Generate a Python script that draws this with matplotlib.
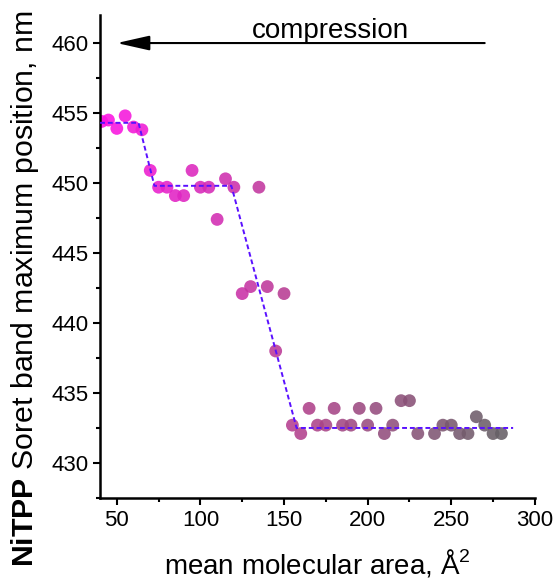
import matplotlib
matplotlib.use("Agg")
import matplotlib.pyplot as plt
from matplotlib.colors import LinearSegmentedColormap
from matplotlib.ticker import MultipleLocator

plt.rcParams['font.family'] = ['Liberation Sans', 'DejaVu Sans']
plt.rcParams['mathtext.fontset'] = 'custom'
plt.rcParams['mathtext.rm'] = 'Liberation Sans'
plt.rcParams['mathtext.bf'] = 'Liberation Sans:bold'

# measured points
area = [41, 45, 50, 55, 60, 65, 70, 75, 80, 85, 90, 95, 100, 105, 110, 115,
        120, 125, 130, 135, 140, 145, 150, 155, 160, 165, 170, 175, 180, 185,
        190, 195, 200, 205, 210, 215, 220, 225, 230, 240, 245, 250, 255, 260,
        265, 270, 275, 280]
soret = [454.4, 454.5, 453.9, 454.8, 454.0, 453.8, 450.9, 449.7, 449.7, 449.1,
         449.1, 450.9, 449.7, 449.7, 447.4, 450.3, 449.7, 442.1, 442.6, 449.7,
         442.6, 438.0, 442.1, 432.7, 432.1, 433.9, 432.7, 432.7, 433.9, 432.7,
         432.7, 433.9, 432.7, 433.9, 432.1, 432.7, 434.45, 434.45, 432.1, 432.1,
         432.7, 432.7, 432.1, 432.1, 433.3, 432.7, 432.1, 432.1]

# piecewise guide line
fit_x = [40, 63, 72.5, 118.5, 157.5, 287]
fit_y = [454.3, 454.3, 449.8, 449.8, 432.5, 432.5]

cmap = LinearSegmentedColormap.from_list('mg', ['#FF10E6', '#B2408C', '#666066'])

fig = plt.figure(figsize=(5.56, 5.79), dpi=100)
ax = fig.add_axes([0.18, 0.14, 0.782, 0.834])

ax.scatter(area, soret, c=area, cmap=cmap, vmin=40, vmax=280, s=85,
           alpha=0.88, linewidths=0, zorder=2)
ax.plot(fit_x, fit_y, color='#5A10FF', linestyle=(0, (2.5, 1.5)), linewidth=1.4, zorder=3)

ax.annotate('', xy=(50, 460), xytext=(270, 460),
            arrowprops=dict(arrowstyle='-|>,head_length=2.0,head_width=0.45',
                            color='black', lw=1.5, shrinkA=0, shrinkB=0))
ax.text(178, 460.35, 'compression', ha='center', va='baseline', fontsize=20)

ax.set_xlim(40, 300)
ax.set_ylim(427.5, 462)
ax.xaxis.set_major_locator(MultipleLocator(50))
ax.xaxis.set_minor_locator(MultipleLocator(25))
ax.yaxis.set_major_locator(MultipleLocator(5))
ax.yaxis.set_minor_locator(MultipleLocator(2.5))

for s in ['top', 'right']:
    ax.spines[s].set_visible(False)
for s in ['left', 'bottom']:
    ax.spines[s].set_linewidth(1.8)
ax.tick_params(which='major', direction='out', length=5, width=1.5, labelsize=16)
ax.tick_params(which='minor', direction='out', length=3, width=1.5)

ax.set_xlabel(r'mean molecular area, Å$^2$', fontsize=20, labelpad=12)
ax.set_ylabel(r'$\mathbf{NiTPP}$ Soret band maximum position, nm', fontsize=21.8)
ax.yaxis.set_label_coords(-0.135, 0.433)

fig.savefig('out.png', dpi=100)
